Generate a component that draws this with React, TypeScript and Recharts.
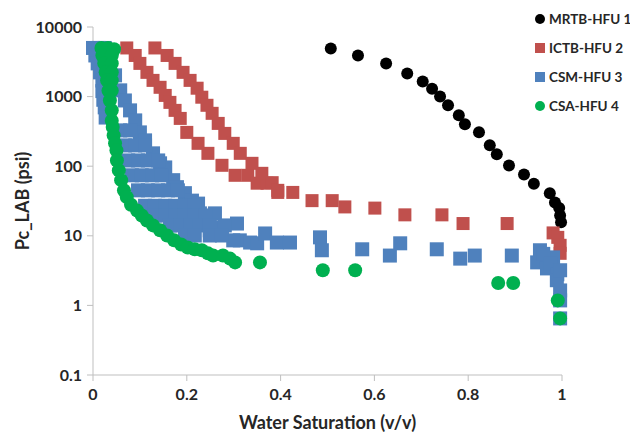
import { ScatterChart, Scatter, XAxis, YAxis } from 'recharts';

document.body.style.margin = '0';

const xTicks = [0, 0.2, 0.4, 0.6, 0.8, 1];
const yTicks = [0.1, 1, 10, 100, 1000, 10000];

// MRTB-HFU 1
const mrtbSw = [0.507, 0.565, 0.625, 0.67, 0.703, 0.723, 0.74, 0.757, 0.78, 0.793, 0.823, 0.846, 0.861, 0.887, 0.919, 0.94, 0.974, 0.985, 0.994, 0.996, 0.998];
const mrtbPc = [4900, 3900, 3000, 2150, 1650, 1300, 1000, 750, 540, 400, 307, 200, 148, 102, 76, 56, 41, 30, 25, 19.6, 15.6];

// ICTB-HFU 2
const ictbSw = [
  0.072, 0.09, 0.1, 0.115, 0.128, 0.143, 0.154, 0.164, 0.175, 0.186, 0.2, 0.224, 0.245, 0.275, 0.303, 0.33, 0.35, 0.371, 0.394, 0.426,
  0.132, 0.158, 0.175, 0.192, 0.207, 0.222, 0.232, 0.243, 0.254, 0.267, 0.281, 0.299, 0.314, 0.339, 0.36, 0.382, 0.394,
  0.467, 0.51, 0.537, 0.601, 0.665, 0.744, 0.789, 0.883, 0.981, 0.991, 0.996, 0.996,
];
const ictbPc = [
  5000, 3900, 3000, 2230, 1710, 1360, 1040, 826, 634, 486, 306, 213, 153, 103, 74, 74, 57, 57, 42, 42,
  5000, 3900, 3000, 2230, 1710, 1320, 980, 750, 575, 412, 296, 213, 153, 110, 79, 58, 45,
  32, 32, 26, 25, 20, 20, 15, 15, 11, 9.5, 7.3, 5.6,
];

// CSM-HFU 3
const csmSw = [
  0.0, 0.012, 0.025, 0.005, 0.01, 0.015, 0.02, 0.02, 0.022, 0.025, 0.027,
  0.036, 0.047, 0.058, 0.068, 0.079, 0.09, 0.1, 0.111, 0.128, 0.143, 0.154, 0.171, 0.179, 0.196, 0.211, 0.224, 0.228, 0.239, 0.249,
  0.26, 0.264, 0.307, 0.313, 0.299, 0.335, 0.35, 0.367, 0.392, 0.42, 0.484, 0.488, 0.574, 0.633, 0.655, 0.733, 0.783, 0.814, 0.893,
  0.953, 0.947, 0.968, 0.981, 0.96, 0.975, 0.99, 0.989, 0.996, 0.996, 0.996, 0.996,
  0.058, 0.079,
  0.068, 0.09, 0.111,
  0.075, 0.096, 0.117, 0.139,
  0.083, 0.104, 0.126, 0.147,
  0.096, 0.117, 0.139, 0.16, 0.181,
  0.111, 0.132, 0.154, 0.175, 0.196, 0.217,
  0.132, 0.154, 0.175, 0.196, 0.217, 0.239,
  0.164, 0.186, 0.207, 0.228, 0.249, 0.281,
  0.196, 0.217, 0.249, 0.275,
];
const csmPc = [
  5000, 5000, 5000, 3900, 3000, 2230, 1700, 1200, 900, 700, 500,
  3300, 2020, 1230, 880, 634, 455, 306, 235, 153, 110, 96, 63, 50, 41, 32, 29, 21, 16.6, 12,
  21, 13.2, 15, 8.6, 8.6, 8, 7.8, 10.8, 8, 8, 9.5, 6.2, 6.4, 5.2, 7.8, 6.4, 4.7, 5.2, 5.2,
  6.2, 4.15, 3.4, 4.9, 5.5, 4, 2.8, 2.3, 3.2, 1.64, 1.18, 0.65,
  327, 327,
  199, 199, 199,
  121, 121, 121, 121,
  74, 74, 74, 74,
  45, 45, 45, 45, 45,
  27, 27, 27, 27, 27, 27,
  19.6, 19.6, 19.6, 19.6, 19.6, 19.6,
  14.1, 14.1, 14.1, 14.1, 14.1, 14.1,
  10.1, 10.1, 10.1, 10.1,
];

// CSA-HFU 4
const csaSw = [
  0.018, 0.032, 0.045, 0.02, 0.04, 0.024, 0.04, 0.027, 0.04, 0.03, 0.04, 0.033, 0.04, 0.036, 0.04, 0.04, 0.042, 0.044, 0.047, 0.05,
  0.051, 0.055, 0.06, 0.066, 0.072, 0.081, 0.094, 0.104, 0.115, 0.128, 0.143, 0.158, 0.173, 0.188, 0.202, 0.217, 0.232, 0.245,
  0.256, 0.277, 0.292, 0.303, 0.356, 0.49, 0.559, 0.864, 0.896, 0.991, 0.996,
];
const csaPc = [
  5000, 5000, 4800, 3900, 3900, 3000, 3000, 2230, 2230, 1710, 1710, 1220, 1220, 880, 634, 450, 365, 277, 213, 169,
  121, 87, 63, 45, 36, 28, 23, 19.6, 16.6, 14.1, 12, 10.1, 8.6, 7.5, 6.8, 6.4, 6.2, 5.6,
  5.2, 5.2, 4.7, 4.15, 4.15, 3.2, 3.2, 2.1, 2.1, 1.18, 0.65,
];

const toPoints = (sw: number[], pc: number[]) => sw.map((x, i) => ({ x, y: pc[i] }));

const series = [
  { name: 'MRTB-HFU 1', color: '#000000', kind: 'circle', size: 12, data: toPoints(mrtbSw, mrtbPc) },
  { name: 'ICTB-HFU 2', color: '#C0504D', kind: 'square', size: 13, data: toPoints(ictbSw, ictbPc) },
  { name: 'CSM-HFU 3', color: '#4F81BD', kind: 'square', size: 14, data: toPoints(csmSw, csmPc) },
  { name: 'CSA-HFU 4', color: '#00B050', kind: 'circle', size: 14, data: toPoints(csaSw, csaPc) },
];

const makeShape = (kind: string, color: string, size: number) => (props: any) => {
  const { cx, cy } = props;
  if (cx == null || cy == null) return <g />;
  if (kind === 'circle') return <circle cx={cx} cy={cy} r={size / 2} fill={color} />;
  return <rect x={cx - size / 2} y={cy - size / 2} width={size} height={size} fill={color} />;
};

const axisColor = '#bfbfbf';
const textColor = '#262626';
const font = 'Lato, "Open Sans", sans-serif';

export default function App() {
  return (
    <div style={{ position: 'relative', width: 630, height: 435, background: '#fff', fontFamily: font }}>
      <ScatterChart width={630} height={435} margin={{ top: 27, right: 68, bottom: 0, left: 0 }}>
        <XAxis
          type="number"
          dataKey="x"
          domain={[0, 1]}
          ticks={xTicks}
          height={60}
          stroke={axisColor}
          tickSize={6}
          tickMargin={8}
          tick={{ fill: textColor, fontSize: 16, fontWeight: 700, fontFamily: font }}
          tickFormatter={(v) => String(v)}
          label={{
            value: 'Water Saturation (v/v)',
            position: 'insideBottom',
            offset: 6,
            fill: textColor,
            fontSize: 18,
            fontWeight: 700,
            fontFamily: font,
          }}
        />
        <YAxis
          type="number"
          dataKey="y"
          scale="log"
          domain={[0.1, 10000]}
          allowDataOverflow
          ticks={yTicks}
          width={93}
          stroke={axisColor}
          tickSize={6}
          tickMargin={5}
          tick={{ fill: textColor, fontSize: 16, fontWeight: 700, fontFamily: font }}
          tickFormatter={(v) => String(v)}
          label={{
            content: ({ viewBox }: any) => {
              const cy = viewBox.y + viewBox.height / 2;
              return (
                <text
                  x={22}
                  y={cy}
                  transform={`rotate(-90, 22, ${cy})`}
                  textAnchor="middle"
                  dominantBaseline="central"
                  fill={textColor}
                  fontSize={18}
                  fontWeight={700}
                  fontFamily={font}
                >
                  Pc_LAB (psi)
                </text>
              );
            },
          }}
        />
        {series.map((s) => (
          <Scatter
            key={s.name}
            name={s.name}
            data={s.data}
            fill={s.color}
            shape={makeShape(s.kind, s.color, s.size)}
            isAnimationActive={false}
          />
        ))}
      </ScatterChart>
      <div style={{ position: 'absolute', left: 534, top: 4 }}>
        {series.map((s) => (
          <div key={s.name} style={{ display: 'flex', alignItems: 'center', height: 29 }}>
            <svg width={12} height={12} style={{ marginRight: 3 }}>
              {s.kind === 'circle' ? (
                <circle cx={6} cy={6} r={5} fill={s.color} />
              ) : (
                <rect x={1} y={1} width={10} height={10} fill={s.color} />
              )}
            </svg>
            <span style={{ fontSize: 13.5, fontWeight: 700, color: textColor, whiteSpace: 'nowrap' }}>{s.name}</span>
          </div>
        ))}
      </div>
    </div>
  );
}
